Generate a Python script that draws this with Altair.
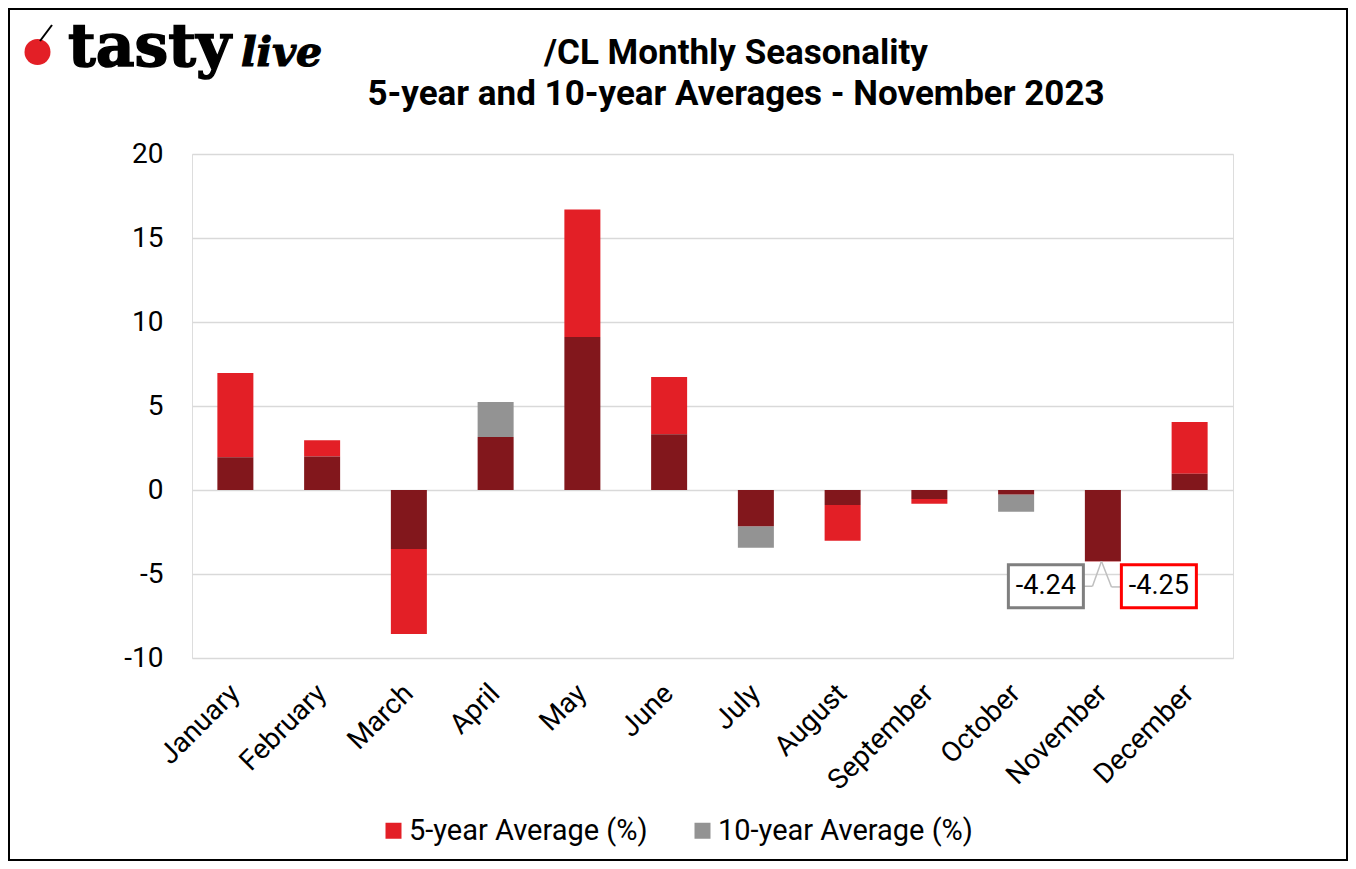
import altair as alt
import pandas as pd

months = ["January", "February", "March", "April", "May", "June", "July",
          "August", "September", "October", "November", "December"]
five_year = [6.96, 2.96, -8.57, 3.15, 16.70, 6.73, -2.16, -3.02, -0.82, -0.27, -4.25, 4.05]
ten_year = [1.95, 2.00, -3.51, 5.24, 9.10, 3.32, -3.44, -0.90, -0.54, -1.30, -4.24, 0.97]

S5 = "5-year Average (%)"
S10 = "10-year Average (%)"
RED = "#E31F26"
GRAY = "#939393"
DARK = "#82171C"

# build overlap / excess segments from the two series
excess_rows, overlap_rows = [], []
for m, f, t in zip(months, five_year, ten_year):
    if f * t > 0:
        sign = 1 if f > 0 else -1
        ov = sign * min(abs(f), abs(t))
        overlap_rows.append({"month": m, "y0": 0.0, "y1": ov})
        big, ser = (f, S5) if abs(f) >= abs(t) else (t, S10)
        excess_rows.append({"month": m, "y0": ov, "y1": big, "series": ser})
    else:
        excess_rows.append({"month": m, "y0": 0.0, "y1": f, "series": S5})
        excess_rows.append({"month": m, "y0": 0.0, "y1": t, "series": S10})
excess = pd.DataFrame(excess_rows)
overlap = pd.DataFrame(overlap_rows)

nov_labels = pd.DataFrame({"month": ["November"], "y": [-5.73]})

W, H = 1041, 504
PL, PT, PR, PB = 184, 146, 115, 203

xscale = alt.Scale(domain=months, paddingInner=0.585, paddingOuter=0.2925)
yscale = alt.Scale(domain=[-10, 20], nice=False)

xenc = alt.X("month:N", sort=months, scale=xscale, title=None,
             axis=alt.Axis(labelAngle=-45, labelAlign="right", labelBaseline="middle",
                           labelFontSize=28, labelFont="Roboto", labelColor="#000000",
                           labelPadding=31, domain=False, ticks=False, grid=False))

bars_excess = alt.Chart(excess).mark_bar().encode(
    x=xenc,
    y=alt.Y("y0:Q", scale=yscale, title=None,
            axis=alt.Axis(values=[-10, -5, 0, 5, 10, 15, 20], labelFontSize=28,
                          labelExpr="'' + datum.value",
                          labelFont="Roboto", labelColor="#000000", labelPadding=29,
                          domain=False, ticks=False, gridColor="#D9D9D9", gridWidth=1.5)),
    y2="y1:Q",
    color=alt.Color("series:N", scale=alt.Scale(domain=[S5, S10], range=[RED, GRAY]),
                    legend=alt.Legend(title=None, orient="none", direction="horizontal",
                                      legendX=187, legendY=662, padding=0,
                                      symbolType="square",
                                      symbolSize=256, symbolStrokeWidth=0,
                                      labelFontSize=29, labelFont="Roboto",
                                      labelLimit=0,
                                      labelColor="#000000", labelOffset=1,
                                      columnPadding=40)),
)

bars_overlap = alt.Chart(overlap).mark_bar(color=DARK).encode(
    x=alt.X("month:N", sort=months, scale=xscale),
    y=alt.Y("y0:Q", scale=yscale),
    y2="y1:Q",
)

BOX = "M-1,-0.573L1,-0.573L1,0.573L-1,0.573Z"
box_left = alt.Chart(nov_labels).mark_point(
    shape=BOX, size=75 * 75, filled=False, fill="white", fillOpacity=1,
    stroke="#7F7F7F", strokeWidth=3, opacity=1, xOffset=-57).encode(
    x=alt.X("month:N", sort=months, scale=xscale), y=alt.Y("y:Q", scale=yscale))
box_right = alt.Chart(nov_labels).mark_point(
    shape=BOX, size=75 * 75, filled=False, fill="white", fillOpacity=1,
    stroke="#FF0000", strokeWidth=3, opacity=1, xOffset=56).encode(
    x=alt.X("month:N", sort=months, scale=xscale), y=alt.Y("y:Q", scale=yscale))

text_left = alt.Chart(pd.DataFrame({"month": ["November"], "y": [-5.73],
                                    "label": [f"{ten_year[10]:.2f}"]})).mark_text(
    font="Roboto", fontSize=27, color="#000000", xOffset=-57, baseline="middle").encode(
    x=alt.X("month:N", sort=months, scale=xscale), y=alt.Y("y:Q", scale=yscale), text="label:N")
text_right = alt.Chart(pd.DataFrame({"month": ["November"], "y": [-5.73],
                                     "label": [f"{five_year[10]:.2f}"]})).mark_text(
    font="Roboto", fontSize=27, color="#000000", xOffset=56, baseline="middle").encode(
    x=alt.X("month:N", sort=months, scale=xscale), y=alt.Y("y:Q", scale=yscale), text="label:N")

# leader lines
leaders = pd.DataFrame({
    "month": ["November"] * 4, "month2": ["November"] * 4,
    "ya": [-5.73, -5.73, -4.24, -5.77],
    "yb": [-5.73, -4.24, -5.77, -5.77],
})
seg_offsets = [(-19.4, -10.4), (-10.4, -1.4), (-1.4, 8.6), (8.6, 18.6)]
leader_layers = []
for i, (a, b) in enumerate(seg_offsets):
    leader_layers.append(
        alt.Chart(leaders.iloc[[i]]).mark_rule(color="#BFBFBF", strokeWidth=1.5,
                                               xOffset=a, x2Offset=b).encode(
            x=alt.X("month:N", sort=months, scale=xscale),
            x2="month2:N",
            y=alt.Y("ya:Q", scale=yscale), y2="yb:Q"))

# titles
title1 = alt.Chart(pd.DataFrame({"t": ["/CL Monthly Seasonality"]})).mark_text(
    font="Roboto", fontSize=35, fontWeight="bold", color="#000000", align="center",
    baseline="alphabetic").encode(x=alt.value(544), y=alt.value(-90), text="t:N")
title2 = alt.Chart(pd.DataFrame({"t": ["5-year and 10-year Averages - November 2023"]})).mark_text(
    font="Roboto", fontSize=35, fontWeight="bold", color="#000000", align="center",
    baseline="alphabetic").encode(x=alt.value(544), y=alt.value(-49), text="t:N")

# logo
cherry = alt.Chart(pd.DataFrame({"a": [1]})).mark_point(
    shape="circle", size=26 * 26, filled=True, color="#E31F26", opacity=1).encode(
    x=alt.value(-154.5), y=alt.value(-102))
stem = alt.Chart(pd.DataFrame({"a": [1]})).mark_rule(
    color="#000000", strokeWidth=2).encode(
    x=alt.value(-152), x2=alt.value(-140), y=alt.value(-113), y2=alt.value(-129))
logo1 = alt.Chart(pd.DataFrame({"t": ["tasty"]})).mark_text(
    font="DejaVu Serif", fontSize=60, fontWeight="bold", color="#000000", align="left",
    baseline="alphabetic", stroke="#000000", strokeWidth=1.5).encode(
    x=alt.value(-124), y=alt.value(-88), text="t:N")
logo2 = alt.Chart(pd.DataFrame({"t": ["live"]})).mark_text(
    font="DejaVu Serif", fontSize=41, fontWeight="bold", fontStyle="italic",
    color="#000000", align="left", baseline="alphabetic",
    stroke="#000000", strokeWidth=1.2).encode(
    x=alt.value(49), y=alt.value(-88), text="t:N")

frame = alt.Chart(pd.DataFrame({"a": [1]})).mark_rect(
    fill=None, stroke="#000000", strokeWidth=2, filled=False).encode(
    x=alt.value(-PL + 1), x2=alt.value(W + PR - 1),
    y=alt.value(-PT + 1), y2=alt.value(H + PB - 1))

chart = alt.layer(
    frame, bars_excess, bars_overlap, *leader_layers, box_left, box_right,
    text_left, text_right, title1, title2, cherry, stem, logo1, logo2
).properties(
    width=W, height=H,
    padding={"left": PL, "top": PT, "right": PR, "bottom": PB},
    autosize=alt.AutoSizeParams(type="none"),
).configure_view(stroke=None).configure(background="white")

chart.save("out.html", embed_options={"renderer": "svg", "actions": False})
